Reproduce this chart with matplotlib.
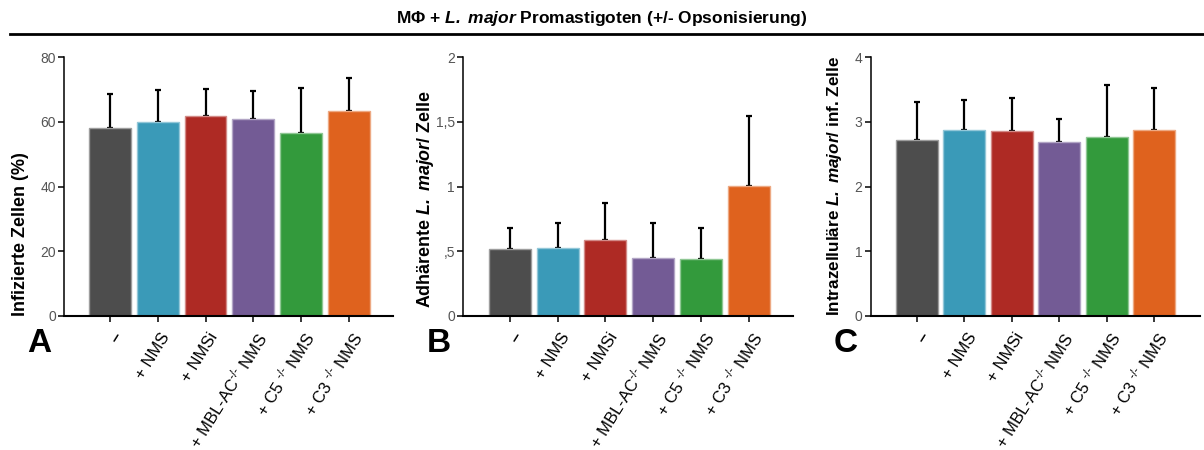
import numpy as np
import matplotlib
matplotlib.use('Agg')
import matplotlib.pyplot as plt
import matplotlib.transforms as mtransforms
from matplotlib.colors import to_rgb

plt.rcParams['font.family'] = ['Liberation Sans', 'DejaVu Sans']
plt.rcParams['mathtext.fontset'] = 'custom'
plt.rcParams['mathtext.rm'] = 'Liberation Sans'
plt.rcParams['mathtext.it'] = 'Liberation Sans:italic'
plt.rcParams['mathtext.bf'] = 'Liberation Sans:bold'
plt.rcParams['mathtext.bfit'] = 'Liberation Sans:bold:italic'

groups = ['\u2013', '+ NMS', '+ NMSi', '+ MBL-AC$^{\\text{-/-}}$ NMS',
          '+ C5 $^{\\text{-/-}}$ NMS', '+ C3 $^{\\text{-/-}}$ NMS']
colors = ['#4d4d4d', '#3a9ab8', '#ae2a24', '#735b95', '#339a3c', '#df621e']

# mean and upper SD per group
infected_mean = [58.2, 60.0, 61.7, 60.9, 56.6, 63.3]
infected_sd = [10.3, 9.8, 8.6, 8.7, 13.9, 10.2]
adherent_mean = [0.514, 0.522, 0.589, 0.448, 0.442, 1.004]
adherent_sd = [0.166, 0.196, 0.281, 0.270, 0.235, 0.545]
intra_mean = [2.72, 2.876, 2.866, 2.69, 2.77, 2.876]
intra_sd = [0.59, 0.464, 0.509, 0.35, 0.795, 0.644]

lmaj = '$\\mathbfit{L.}$ $\\mathbfit{major}$'

panels = [
    dict(mean=infected_mean, sd=infected_sd, ylim=80,
         yticks=[0, 20, 40, 60, 80], yticklabels=['0', '20', '40', '60', '80'],
         ylabel='Infizierte Zellen (%)', lsize=13, letter='A', label_xy=(29, 316),
         rect=[0.0534, 0.2978, 0.273, 0.575], xlim=(-0.96, 5.93)),
    dict(mean=adherent_mean, sd=adherent_sd, ylim=2,
         yticks=[0, 0.5, 1, 1.5, 2], yticklabels=['0', ',5', '1', '1,5', '2'],
         ylabel='Adh\u00e4rente ' + lmaj + '/ Zelle', lsize=12.9, letter='B',
         label_xy=(436, 308), rect=[0.3848, 0.2978, 0.2738, 0.575],
         xlim=(-0.98, 5.93)),
    dict(mean=intra_mean, sd=intra_sd, ylim=4,
         yticks=[0, 1, 2, 3, 4], yticklabels=['0', '1', '2', '3', '4'],
         ylabel='Intrazellul\u00e4re ' + lmaj + '/ inf. Zelle', lsize=12.3,
         letter='C', label_xy=(844, 316),
         rect=[0.7232, 0.2978, 0.2735, 0.575], xlim=(-0.97, 5.965)),
]


def lighten(c, f=0.45):
    r, g, b = to_rgb(c)
    return (r + (1 - r) * f, g + (1 - g) * f, b + (1 - b) * f)


W, H = 1204, 450
fig = plt.figure(figsize=(W / 100, H / 100), dpi=100)
shift = mtransforms.ScaledTranslation(0.09, 0, fig.dpi_scale_trans)

x = np.arange(len(groups))
for p in panels:
    ax = fig.add_axes(p['rect'])
    mean = np.array(p['mean'])
    sd = np.array(p['sd'])
    ax.bar(x, mean, width=0.88, color=colors,
           edgecolor=[lighten(c) for c in colors], linewidth=1.0, zorder=2)
    ax.errorbar(x, mean, yerr=[np.zeros_like(sd), sd], fmt='none',
                ecolor='black', elinewidth=1.6, capsize=2, capthick=1.6, zorder=1)
    ax.set_xlim(*p['xlim'])
    ax.set_ylim(0, p['ylim'])
    ax.set_yticks(p['yticks'])
    ax.set_yticklabels(p['yticklabels'], fontsize=10, color='#555555')
    ax.tick_params(axis='y', length=4, width=1.1, pad=2, direction='out')
    ax.tick_params(axis='x', length=4, width=1.1, pad=9, direction='out')
    ax.set_xticks(x)
    ax.set_xticklabels(groups, rotation=58, ha='right', va='center',
                       rotation_mode='anchor', fontsize=12)
    ax.get_xticklabels()[0].set_fontweight('bold')
    # nudge the slanted labels to the right of their ticks
    for lab in ax.get_xticklabels():
        lab.set_transform(lab.get_transform() + shift)
    for s in ['top', 'right']:
        ax.spines[s].set_visible(False)
    ax.spines['left'].set_linewidth(1.1)
    ax.spines['bottom'].set_linewidth(1.5)
    ax.set_ylabel(p['ylabel'], fontsize=p['lsize'], fontweight='bold', loc='bottom')
    lx, ly = p['label_xy']
    ax.yaxis.set_label_coords(lx / W, 1 - ly / H, transform=fig.transFigure)
    ax.text(-0.075, -0.105, p['letter'], transform=ax.transAxes,
            fontsize=24, fontweight='bold', ha='center', va='center')

fig.text(0.5, 0.958,
         'M\u03a6 + ' + lmaj + ' Promastigoten (+/- Opsonisierung)',
         ha='center', va='center', fontsize=12.5, fontweight='bold')
fig.add_artist(plt.Line2D([0.008, 1.0], [0.924, 0.924], color='black',
                          linewidth=2, transform=fig.transFigure))

fig.savefig('out.png', dpi=100)
